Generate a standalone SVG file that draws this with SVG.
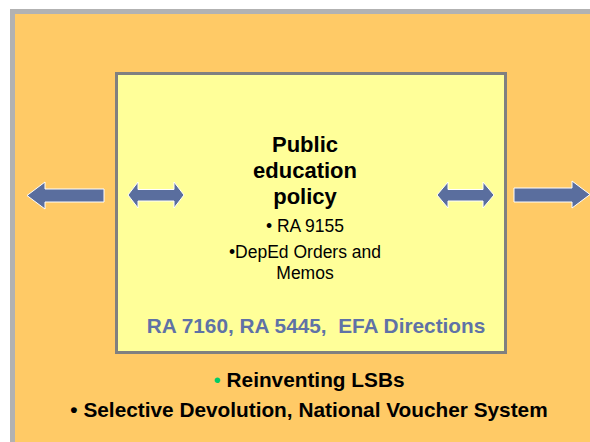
<svg xmlns="http://www.w3.org/2000/svg" width="590" height="442" viewBox="0 0 590 442">
<style>
.t{font-family:"Liberation Sans",Arial,sans-serif;text-anchor:middle}
.b{font-weight:bold}
.arr{fill:#5A6E9E;stroke:#FFFFFF;stroke-width:1;stroke-linejoin:miter}
</style>
<rect width="590" height="442" fill="#FFFFFF"/>
<g id="outer">
<rect x="12.5" y="11.5" width="600" height="460" fill="#FFCA66" stroke="#B2B2B2" stroke-width="5"/>
</g>
<g id="policy-box">
<rect x="116.5" y="73.5" width="389" height="279" fill="#FFFF99" stroke="#808080" stroke-width="3"/>
<text class="t b" x="305" y="152" font-size="22">Public</text>
<text class="t b" x="305" y="178" font-size="22">education</text>
<text class="t b" x="305" y="204" font-size="22">policy</text>
<text class="t" x="305" y="232" font-size="17.5">• RA 9155</text>
<text class="t" x="305" y="258" font-size="17.5">•DepEd Orders and</text>
<text class="t" x="305" y="279" font-size="17.5">Memos</text>
<text class="t b" x="316" y="333" font-size="20.8" fill="#5F72A6" style="white-space:pre">RA 7160, RA 5445,  EFA Directions</text>
</g>
<g id="connectors">
<polygon class="arr" points="27,195.5 45,182 45,189 104,189 104,202 45,202 45,209"/>
<polygon class="arr" points="128,195 138,182 138,189.5 174,189.5 174,182 184,195 174,208 174,201 138,201 138,208"/>
<polygon class="arr" points="437,195 448,182 448,189.5 483,189.5 483,182 494,195 483,208 483,201 448,201 448,208"/>
<polygon class="arr" points="514,188 572,188 572,181 590,194.5 572,208 572,202 514,202"/>
</g>
<g id="bottom-notes">
<text class="t b" x="309" y="387" font-size="20.8"><tspan fill="#00CC66" font-weight="normal">•</tspan> Reinventing LSBs</text>
<text class="t b" x="309" y="417" font-size="20.8">• Selective Devolution, National Voucher System</text>
</g>
</svg>
